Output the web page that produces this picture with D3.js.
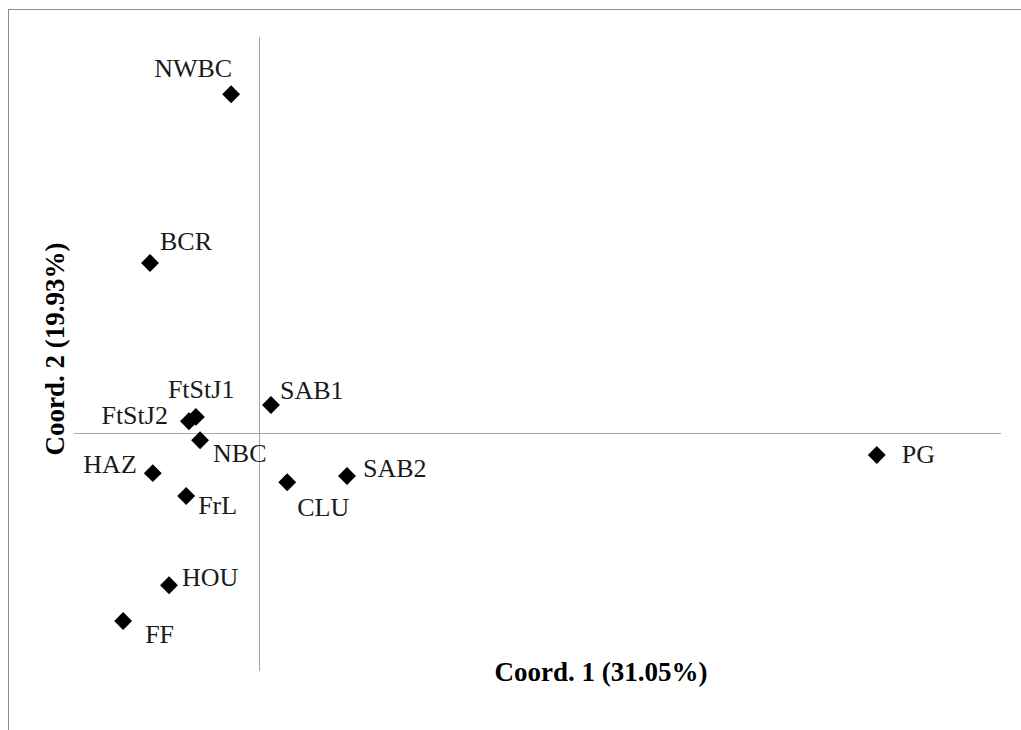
<!DOCTYPE html>
<html>
<head>
<meta charset="utf-8">
<script src="https://cdn.jsdelivr.net/npm/d3@7"></script>
<style>
  body { margin: 0; background: #fff; }
  svg { display: block; }
</style>
</head>
<body>
<div id="chart"></div>
<script>
// PCoA coordinates per population
const sites = ["NWBC", "BCR", "FtStJ1", "FtStJ2", "NBC", "SAB1", "HAZ", "FrL", "CLU", "SAB2", "PG", "HOU", "FF"];
const coord1 = [-0.061, -0.236, -0.137, -0.152, -0.128, 0.025, -0.230, -0.158, 0.060, 0.189, 1.332, -0.195, -0.294];
const coord2 = [0.710, 0.356, 0.033, 0.024, -0.016, 0.058, -0.085, -0.133, -0.104, -0.091, -0.047, -0.320, -0.395];

const xTitle = "Coord. 1 (31.05%)";
const yTitle = "Coord. 2 (19.93%)";

// label placement relative to each marker: [dx, dy, anchor]
const labelPos = {
  NWBC: [1, -17, "end"],
  BCR: [10, -13, "start"],
  FtStJ1: [-28, -19, "start"],
  FtStJ2: [-21, 3, "end"],
  NBC: [13, 22, "start"],
  SAB1: [9, -6, "start"],
  HAZ: [-16, 0, "end"],
  FrL: [12, 18, "start"],
  CLU: [10, 34, "start"],
  SAB2: [16, 1, "start"],
  PG: [25, 8, "start"],
  HOU: [13, 1, "start"],
  FF: [22, 22, "start"],
};

const width = 1021;
const height = 730;
const font = "'Liberation Serif', 'Times New Roman', serif";

const data = sites.map((s, i) => ({ name: s, x: coord1[i], y: coord2[i] }));

const x = d3.scaleLinear().domain([-0.4, 1.6]).range([74, 1001]);
const y = d3.scaleLinear().domain([-0.5, 0.83]).range([671, 37]);

const svg = d3
  .select("#chart")
  .append("svg")
  .attr("width", width)
  .attr("height", height);

// outer frame (chart area border, cut off at the right and bottom)
svg
  .append("rect")
  .attr("x", 8.5)
  .attr("y", 9.5)
  .attr("width", width + 10)
  .attr("height", height + 10)
  .attr("fill", "none")
  .attr("stroke", "#8c8c8c")
  .attr("stroke-width", 1);

// axes through the origin
svg
  .append("line")
  .attr("x1", x.range()[0])
  .attr("x2", x.range()[1])
  .attr("y1", Math.round(y(0)) + 0.5)
  .attr("y2", Math.round(y(0)) + 0.5)
  .attr("stroke", "#a6a6a6");

svg
  .append("line")
  .attr("x1", Math.round(x(0)) + 0.5)
  .attr("x2", Math.round(x(0)) + 0.5)
  .attr("y1", y.range()[1])
  .attr("y2", y.range()[0])
  .attr("stroke", "#a6a6a6");

const diamond = d3.symbol().type(d3.symbolSquare).size(160);

svg
  .append("g")
  .selectAll("path")
  .data(data)
  .join("path")
  .attr("d", diamond)
  .attr("transform", (d) => `translate(${x(d.x)},${y(d.y)}) rotate(45)`)
  .attr("fill", "#000");

svg
  .append("g")
  .attr("font-family", font)
  .attr("font-size", 26)
  .attr("fill", "#1a1a1a")
  .selectAll("text")
  .data(data)
  .join("text")
  .attr("x", (d) => x(d.x) + labelPos[d.name][0])
  .attr("y", (d) => y(d.y) + labelPos[d.name][1])
  .attr("text-anchor", (d) => labelPos[d.name][2])
  .text((d) => d.name);

// axis titles
svg
  .append("text")
  .attr("x", 601)
  .attr("y", 681)
  .attr("text-anchor", "middle")
  .attr("font-family", font)
  .attr("font-size", 27)
  .attr("font-weight", "bold")
  .attr("fill", "#000")
  .text(xTitle);

svg
  .append("text")
  .attr("transform", "translate(64,349) rotate(-90)")
  .attr("text-anchor", "middle")
  .attr("font-family", font)
  .attr("font-size", 27)
  .attr("font-weight", "bold")
  .attr("fill", "#000")
  .text(yTitle);
</script>
</body>
</html>
